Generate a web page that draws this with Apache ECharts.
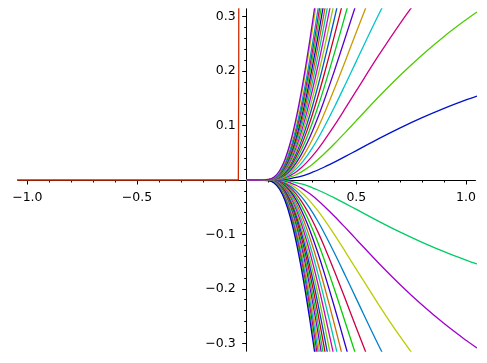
<!DOCTYPE html>
<html><head><meta charset="utf-8">
<script src="https://cdn.jsdelivr.net/npm/echarts@6/dist/echarts.min.js"></script>
<style>html,body{margin:0;padding:0;background:#fff}#c{width:487px;height:363px}</style>
</head><body><div id="c"></div>
<script>
// ---- data ----
const xs = [0, 0.05, 0.1, 0.125, 0.15, 0.175, 0.2, 0.225, 0.25, 0.275, 0.3, 0.325, 0.35, 0.4, 0.45, 0.5, 0.6, 0.7, 0.8, 0.9, 1.0, 1.05];

const up1 = [0,0,0,0.0001,0.0005,0.0013,0.0027,0.0047,0.0073,0.0105,0.0143,0.0184,0.0230,0.0328,0.0434,0.0541,0.0756,0.0959,0.1146,0.1317,0.1472,0.1543];
const up2 = [0,0,0,0.0003,0.0011,0.0027,0.0056,0.0097,0.0150,0.0215,0.0291,0.0375,0.0467,0.0665,0.0876,0.1092,0.1520,0.1924,0.2298,0.2638,0.2945,0.3087];
const up3 = [0,0,0.0001,0.0004,0.0017,0.0042,0.0086,0.0148,0.0229,0.0328,0.0442,0.0568,0.0706,0.1003,0.1319,0.1641,0.2279,0.2880,0.3433];
const up4 = [0,0,0.0001,0.0006,0.0023,0.0058,0.0117,0.0201,0.0310,0.0442,0.0594,0.0763,0.0946,0.1341,0.1759,0.2184,0.3026,0.3818];
const up5 = [0,0,0.0001,0.0008,0.0030,0.0074,0.0149,0.0255,0.0392,0.0558,0.0748,0.0958,0.1186,0.1676,0.2193,0.2719,0.3756];
const up6 = [0,0,0.0001,0.0010,0.0037,0.0091,0.0182,0.0310,0.0475,0.0674,0.0901,0.1153,0.1424,0.2007,0.2622,0.3243];
const up7 = [0,0,0.0002,0.0012,0.0044,0.0109,0.0216,0.0366,0.0559,0.0791,0.1055,0.1346,0.1660,0.2333,0.3040,0.3755];
const up8 = [0,0,0.0002,0.0015,0.0052,0.0127,0.0250,0.0423,0.0643,0.0907,0.1207,0.1538,0.1893,0.2653,0.3450];
const up9 = [0,0,0.0003,0.0017,0.0060,0.0146,0.0285,0.0480,0.0728,0.1024,0.1359,0.1728,0.2123,0.2967,0.3850];
const up10 = [0,0,0.0003,0.0020,0.0068,0.0165,0.0321,0.0538,0.0813,0.1140,0.1509,0.1915,0.2349,0.3273];
const up11 = [0,0,0.0004,0.0023,0.0077,0.0185,0.0357,0.0596,0.0898,0.1255,0.1658,0.2099,0.2571,0.3573];
const up12 = [0,0,0.0004,0.0025,0.0086,0.0205,0.0394,0.0654,0.0982,0.1369,0.1805,0.2281,0.2789,0.3864];
const up13 = [0,0,0.0005,0.0028,0.0095,0.0226,0.0431,0.0713,0.1067,0.1483,0.1950,0.2459,0.3001,0.4146];
const up14 = [0,0,0.0005,0.0032,0.0105,0.0247,0.0469,0.0772,0.1151,0.1595,0.2093,0.2634,0.3208];
const up15 = [0,0,0.0006,0.0035,0.0115,0.0268,0.0507,0.0831,0.1235,0.1706,0.2233,0.2805,0.3411];
const up16 = [0,0,0.0007,0.0039,0.0126,0.0290,0.0546,0.0890,0.1318,0.1816,0.2371,0.2972,0.3608];
const up17 = [0,0,0.0007,0.0042,0.0136,0.0313,0.0584,0.0949,0.1400,0.1924,0.2506,0.3135,0.3800];
const up18 = [0,0,0.0009,0.0050,0.0159,0.0359,0.0663,0.1067,0.1563,0.2136,0.2769,0.3449];
const up19 = [0,0,0.0010,0.0055,0.0170,0.0382,0.0702,0.1126,0.1643,0.2239,0.2895,0.3600];

const lo1 = [0,0,0,-0.0001,-0.0005,-0.0013,-0.0027,-0.0047,-0.0073,-0.0105,-0.0143,-0.0184,-0.0230,-0.0328,-0.0434,-0.0541,-0.0756,-0.0959,-0.1146,-0.1317,-0.1472,-0.1543];
const lo2 = [0,0,0,-0.0003,-0.0011,-0.0027,-0.0056,-0.0097,-0.0150,-0.0215,-0.0291,-0.0375,-0.0467,-0.0665,-0.0876,-0.1092,-0.1520,-0.1924,-0.2298,-0.2638,-0.2945,-0.3087];
const lo3 = [0,0,-0.0001,-0.0004,-0.0017,-0.0042,-0.0086,-0.0148,-0.0229,-0.0328,-0.0442,-0.0568,-0.0706,-0.1003,-0.1319,-0.1641,-0.2279,-0.2880,-0.3433];
const lo4 = [0,0,-0.0001,-0.0006,-0.0023,-0.0058,-0.0117,-0.0201,-0.0310,-0.0442,-0.0594,-0.0763,-0.0946,-0.1341,-0.1759,-0.2184,-0.3026,-0.3818];
const lo5 = [0,0,-0.0001,-0.0008,-0.0030,-0.0074,-0.0149,-0.0255,-0.0392,-0.0558,-0.0748,-0.0958,-0.1186,-0.1676,-0.2193,-0.2719,-0.3756];
const lo6 = [0,0,-0.0001,-0.0010,-0.0037,-0.0091,-0.0182,-0.0310,-0.0475,-0.0674,-0.0901,-0.1153,-0.1424,-0.2007,-0.2622,-0.3243];
const lo7 = [0,0,-0.0002,-0.0012,-0.0044,-0.0109,-0.0216,-0.0366,-0.0559,-0.0791,-0.1055,-0.1346,-0.1660,-0.2333,-0.3040,-0.3755];
const lo8 = [0,0,-0.0002,-0.0015,-0.0052,-0.0127,-0.0250,-0.0423,-0.0643,-0.0907,-0.1207,-0.1538,-0.1893,-0.2653,-0.3450];
const lo9 = [0,0,-0.0003,-0.0017,-0.0060,-0.0146,-0.0285,-0.0480,-0.0728,-0.1024,-0.1359,-0.1728,-0.2123,-0.2967,-0.3850];
const lo10 = [0,0,-0.0003,-0.0020,-0.0068,-0.0165,-0.0321,-0.0538,-0.0813,-0.1140,-0.1509,-0.1915,-0.2349,-0.3273];
const lo11 = [0,0,-0.0004,-0.0023,-0.0077,-0.0185,-0.0357,-0.0596,-0.0898,-0.1255,-0.1658,-0.2099,-0.2571,-0.3573];
const lo12 = [0,0,-0.0004,-0.0025,-0.0086,-0.0205,-0.0394,-0.0654,-0.0982,-0.1369,-0.1805,-0.2281,-0.2789,-0.3864];
const lo13 = [0,0,-0.0005,-0.0028,-0.0095,-0.0226,-0.0431,-0.0713,-0.1067,-0.1483,-0.1950,-0.2459,-0.3001,-0.4146];
const lo14 = [0,0,-0.0005,-0.0032,-0.0105,-0.0247,-0.0469,-0.0772,-0.1151,-0.1595,-0.2093,-0.2634,-0.3208];
const lo15 = [0,0,-0.0006,-0.0035,-0.0115,-0.0268,-0.0507,-0.0831,-0.1235,-0.1706,-0.2233,-0.2805,-0.3411];
const lo16 = [0,0,-0.0007,-0.0039,-0.0126,-0.0290,-0.0546,-0.0890,-0.1318,-0.1816,-0.2371,-0.2972,-0.3608];
const lo17 = [0,0,-0.0007,-0.0042,-0.0136,-0.0313,-0.0584,-0.0949,-0.1400,-0.1924,-0.2506,-0.3135,-0.3800];
const lo18 = [0,0,-0.0008,-0.0046,-0.0147,-0.0336,-0.0623,-0.1008,-0.1482,-0.2031,-0.2639,-0.3294];
const lo19 = [0,0,-0.0009,-0.0050,-0.0159,-0.0359,-0.0663,-0.1067,-0.1563,-0.2136,-0.2769,-0.3449];
const lo20 = [0,0,-0.0010,-0.0055,-0.0170,-0.0382,-0.0702,-0.1126,-0.1643,-0.2239,-0.2895,-0.3600];

const redX = [-1.05, -0.038, -0.036];
const redY = [0, 0, 0.40];

const xMajorTicks = [-1.0, -0.5, 0.5, 1.0];
const xMinorTicks = [-0.9,-0.8,-0.7,-0.6,-0.4,-0.3,-0.2,-0.1,0.1,0.2,0.3,0.4,0.6,0.7,0.8,0.9];
const yMajorTicks = [-0.3, -0.2, -0.1, 0.1, 0.2, 0.3];
const yMinorTicks = [-0.28,-0.26,-0.24,-0.22,-0.18,-0.16,-0.14,-0.12,-0.08,-0.06,-0.04,-0.02,
                     0.02,0.04,0.06,0.08,0.12,0.14,0.16,0.18,0.22,0.24,0.26,0.28];

const upper = [up1,up2,up3,up4,up5,up6,up7,up8,up9,up10,up11,up12,up13,up14,up15,up16,up17,up18,up19];
const lower = [lo1,lo2,lo3,lo4,lo5,lo6,lo7,lo8,lo9,lo10,lo11,lo12,lo13,lo14,lo15,lo16,lo17,lo18,lo19,lo20];

// ---- styling ----
const PHI = 0.618034, HUE0 = 0.034;
function hsl(h){ h = ((h % 1) + 1) % 1; return 'hsl(' + (h*360).toFixed(1) + ',100%,40%)'; }
const XMIN = -1.042, XMAX = 1.042, YMIN = -0.3142, YMAX = 0.3142;
const G = { left:18.14, width:457.1, top:9, height:342 };
// offsets that bring the axes onto the zero lines
const X_OFF = -(G.height * (YMIN / (YMIN - YMAX)));
const Y_OFF = -(G.width * (XMIN / (XMIN - XMAX)));
const font = { fontFamily: 'DejaVu Sans', fontSize: 12.5, color: '#000' };
const fmt = v => (v < 0 ? '\u2212' : '') + Math.abs(v).toFixed(1);
const LW = 1.3;

function zip(ys){ return ys.map((y,i) => [xs[i], y]); }
function lineSeries(data, color){
  return { type:'line', data, xAxisIndex:0, yAxisIndex:0, showSymbol:false, symbol:'none',
           smooth:0.35, clip:true, lineStyle:{ color, width:LW }, emphasis:{disabled:true}, silent:true };
}

const series = [];
lower.forEach((ys,i) => series.push(lineSeries(zip(ys), hsl(HUE0 - (i+1)*PHI))));
series.push(lineSeries(redX.map((x,i)=>[x, redY[i]]), hsl(HUE0)));
upper.forEach((ys,i) => series.push(lineSeries(zip(ys), hsl(HUE0 + (i+1)*PHI))));

const axLine = { onZero:false, lineStyle:{ color:'#000', width:1 } };
const option = {
  animation:false,
  backgroundColor:'#fff',
  grid:{ ...G, containLabel:false, outerBoundsMode:'none' },
  xAxis:[
    { type:'value', min:XMIN, max:XMAX, position:'bottom', offset:X_OFF, axisLine:axLine,
      axisTick:{ show:true, customValues:xMajorTicks, length:4.5, lineStyle:{color:'#000', width:1} },
      axisLabel:{ show:true, customValues:xMajorTicks, formatter:fmt, margin:11, ...font },
      splitLine:{show:false}, minorTick:{show:false} },
    { type:'value', min:XMIN, max:XMAX, position:'bottom', offset:X_OFF, axisLine:axLine,
      axisTick:{ show:true, customValues:xMinorTicks, length:2.5, lineStyle:{color:'#000', width:1} },
      axisLabel:{ show:false }, splitLine:{show:false} }
  ],
  yAxis:[
    { type:'value', min:YMIN, max:YMAX, position:'left', offset:Y_OFF, axisLine:axLine,
      axisTick:{ show:true, customValues:yMajorTicks, length:4.5, lineStyle:{color:'#000', width:1} },
      axisLabel:{ show:true, customValues:yMajorTicks, formatter:fmt, margin:11, ...font },
      splitLine:{show:false} },
    { type:'value', min:YMIN, max:YMAX, position:'left', offset:Y_OFF, axisLine:axLine,
      axisTick:{ show:true, customValues:yMinorTicks, length:2.5, lineStyle:{color:'#000', width:1} },
      axisLabel:{ show:false }, splitLine:{show:false} }
  ],
  series
};
const chart = echarts.init(document.getElementById('c'), null, { renderer:'canvas' });
chart.setOption(option);
</script>
</body></html>
